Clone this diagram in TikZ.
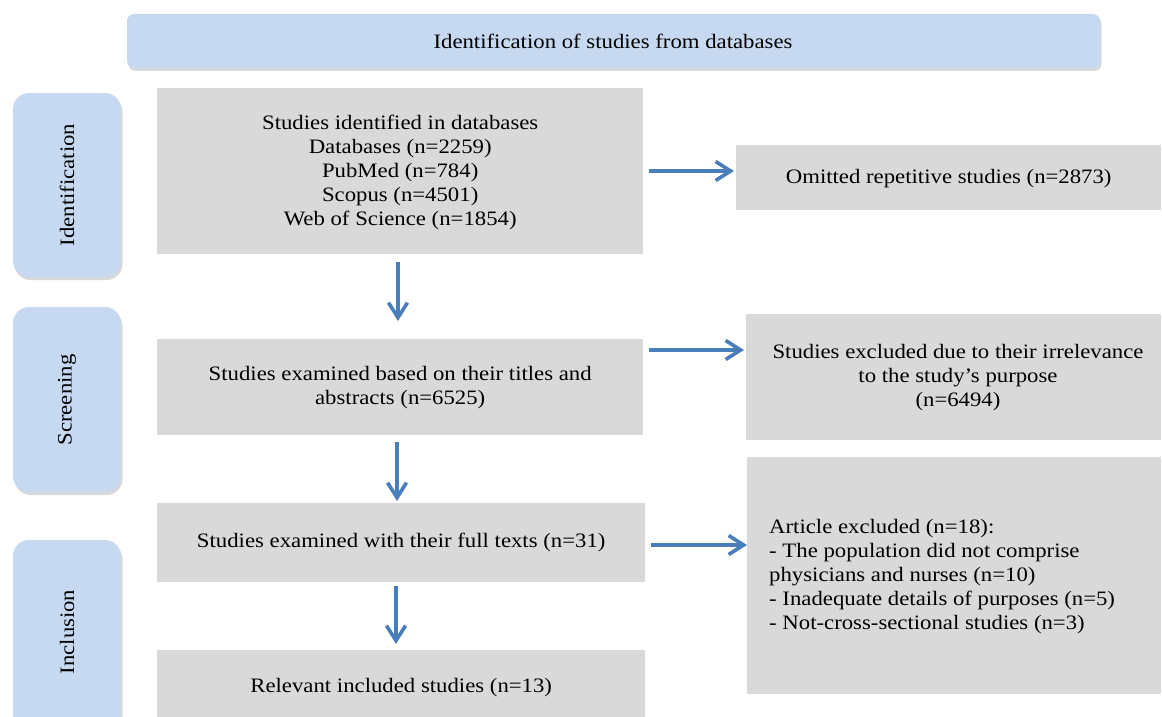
\documentclass[tikz,border=0pt]{standalone}
\usepackage{fontspec}
\setmainfont[FakeStretch=1.11]{Liberation Serif}
\usetikzlibrary{arrows.meta,shadows}
\definecolor{hdrblue}{HTML}{C6D9F1}
\definecolor{boxgrey}{HTML}{D9D9D9}
\definecolor{arrblue}{HTML}{4A7EBB}
\tikzset{
  x=1pt,y=-1pt,
  hdr/.style={fill=hdrblue,rounded corners=7pt,drop shadow={shadow xshift=1.5pt,shadow yshift=-3pt,opacity=0.25,fill=black!60}},
  side/.style={fill=hdrblue,rounded corners=16pt,drop shadow={shadow xshift=1.5pt,shadow yshift=-3pt,opacity=0.25,fill=black!60}},
  gbox/.style={fill=boxgrey},
  txt/.style={font=\fontsize{20.5}{24}\selectfont,align=center,inner sep=0pt},
  conn/.style={draw=arrblue,line width=4pt,-{Straight Barb[length=15pt,width=19pt,line width=3.6pt]}},
}
\begin{document}
\begin{tikzpicture}
\useasboundingbox (0,0) rectangle (1162,717);
% header
\path[hdr] (127,14) rectangle (1100,68);
\node[txt] (hdr) at (613,41) {Identification of studies from databases};
% side labels
\path[side] (13,93) rectangle (121,277);
\node[txt,rotate=90] (sid) at (67,185) {Identification};
\path[side] (13,307) rectangle (121,492);
\node[txt,rotate=90] (sscr) at (67,400) {Screening};
\begin{scope}
\clip (0,0) rectangle (1162,717);
\path[side] (13,540) rectangle (121,760);
\end{scope}
\node[txt,rotate=90] (sinc) at (67,632) {Inclusion};
% grey boxes
\node[gbox,minimum width=486pt,minimum height=166pt,anchor=north west,inner sep=0pt] (b1) at (157,88) {};
\node[txt] at ([yshift=-1pt]b1.center) {Studies identified in databases\\Databases (n=2259)\\PubMed (n=784)\\Scopus (n=4501)\\Web of Science (n=1854)};
\node[gbox,minimum width=486pt,minimum height=96pt,anchor=north west,inner sep=0pt] (b2) at (157,339) {};
\node[txt] at (b2.center) {Studies examined based on their titles and\\abstracts (n=6525)};
\node[gbox,minimum width=488pt,minimum height=79pt,anchor=north west,inner sep=0pt] (b3) at (157,503) {};
\node[txt] at (b3.center) {Studies examined with their full texts (n=31)};
\node[gbox,minimum width=488pt,minimum height=70pt,anchor=north west,inner sep=0pt] (b4) at (157,650) {};
\node[txt] at ([yshift=-2pt]b4.center) {Relevant included studies (n=13)};
\node[gbox,minimum width=425pt,minimum height=65pt,anchor=north west,inner sep=0pt] (r1) at (736,145) {};
\node[txt] at ([yshift=-1pt]r1.center) {Omitted repetitive studies (n=2873)};
\node[gbox,minimum width=415pt,minimum height=126pt,anchor=north west,inner sep=0pt] (r2) at (746,314) {};
\node[txt] at (958,378) {Studies excluded due to their irrelevance\\to the study’s purpose\\(n=6494)};
\node[gbox,minimum width=414pt,minimum height=237pt,anchor=north west,inner sep=0pt] (r3) at (747,457) {};
\node[txt,align=left,anchor=west] at (769,577) {Article excluded (n=18):\\- The population did not comprise\\physicians and nurses (n=10)\\- Inadequate details of purposes (n=5)\\- Not-cross-sectional studies (n=3)};
% connectors
\coordinate (a1s) at (649,171); \coordinate (a1e) at (734,171);
\coordinate (a2s) at (649,350); \coordinate (a2e) at (744,350);
\coordinate (a3s) at (651,545); \coordinate (a3e) at (747,545);
\coordinate (v1s) at (398,262); \coordinate (v1e) at (398,321);
\coordinate (v2s) at (397,442); \coordinate (v2e) at (397,501);
\coordinate (v3s) at (396,586); \coordinate (v3e) at (396,644);
\draw[conn] (a1s) -- (a1e);
\draw[conn] (a2s) -- (a2e);
\draw[conn] (a3s) -- (a3e);
\draw[conn] (v1s) -- (v1e);
\draw[conn] (v2s) -- (v2e);
\draw[conn] (v3s) -- (v3e);
\end{tikzpicture}
\end{document}
